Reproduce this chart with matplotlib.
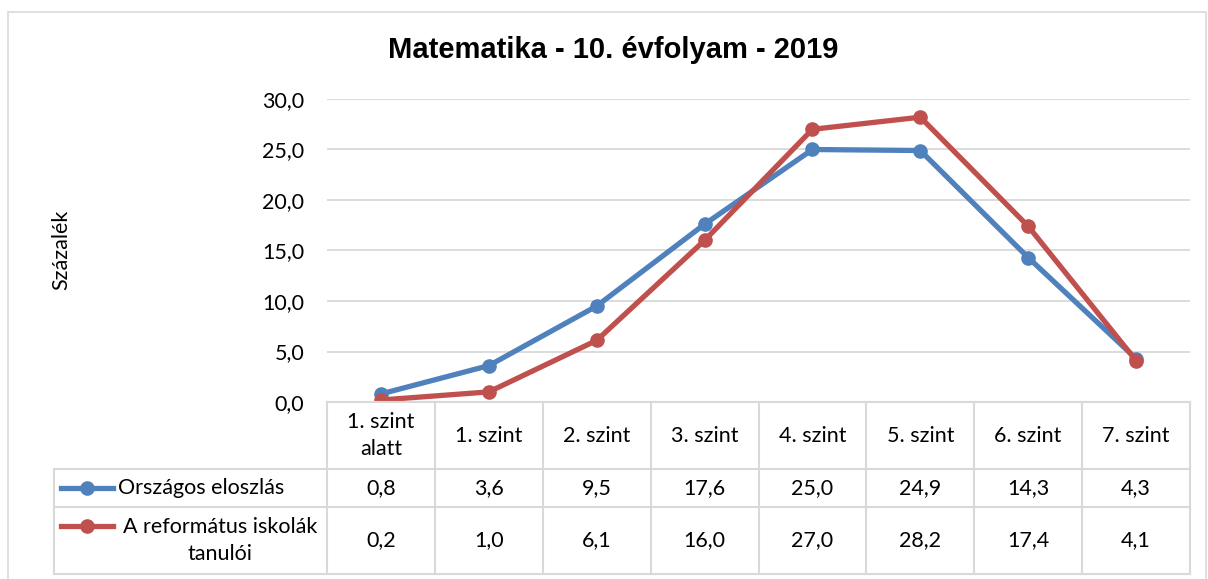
import matplotlib.pyplot as plt
from matplotlib.lines import Line2D
from matplotlib.patches import Rectangle

categories = ["1. szint\nalatt", "1. szint", "2. szint", "3. szint",
              "4. szint", "5. szint", "6. szint", "7. szint"]
orszagos = [0.8, 3.6, 9.5, 17.6, 25.0, 24.9, 14.3, 4.3]
reformatus = [0.2, 1.0, 6.1, 16.0, 27.0, 28.2, 17.4, 4.1]
series_names = ["Országos eloszlás", "A református iskolák\ntanulói"]
yticks = [0, 5, 10, 15, 20, 25, 30]

BLUE = "#4F81BD"
RED = "#C0504D"
GRID = "#D9D9D9"
FONT = "Lato"
FS = 15.5

W, H = 1208, 579
fig = plt.figure(figsize=(W / 100, H / 100), dpi=100)


def fx(px):
    return px / W


def fy(py):
    return 1 - py / H


# outer chart frame
fig.patches.append(Rectangle((fx(8), fy(600)), fx(1198), fy(12) - fy(600),
                             transform=fig.transFigure, fill=False,
                             edgecolor="#D9D9D9", linewidth=1.2))

left, right, top, bottom = 327, 1190, 99, 402
ax = fig.add_axes([fx(left), fy(bottom), fx(right) - fx(left), fy(top) - fy(bottom)])
x = list(range(len(categories)))
ax.plot(x, orszagos, color=BLUE, linewidth=3.8, marker="o", markersize=9.5, zorder=3)
ax.plot(x, reformatus, color=RED, linewidth=3.8, marker="o", markersize=9.5, zorder=3)
ax.set_xlim(-0.5, len(categories) - 0.5)
ax.set_ylim(0, 30)
ax.set_yticks(yticks)
ax.set_yticklabels([f"{v:.1f}".replace(".", ",") for v in yticks],
                   fontsize=FS, family=FONT)
ax.set_xticks([])
ax.tick_params(axis="y", length=0, pad=16.5)
ax.grid(axis="y", color=GRID, linewidth=1.3)
ax.set_axisbelow(True)
for s in ax.spines.values():
    s.set_visible(False)

fig.text(fx(61), fy(250), "Százalék", rotation=90, ha="center", va="center",
         fontsize=FS, family=FONT)
fig.text(fx(613), fy(50), "Matematika - 10. évfolyam - 2019", ha="center",
         va="center", fontsize=21, fontweight="bold", family="Liberation Sans")

# data table below the plot
col_w = (right - left) / len(categories)
rows = [402, 469, 507, 574]
legend_left = 54


def hline(x0, x1, y):
    fig.add_artist(Line2D([fx(x0), fx(x1)], [fy(y), fy(y)], color=GRID, linewidth=1.5))


def vline(xp, y0, y1):
    fig.add_artist(Line2D([fx(xp), fx(xp)], [fy(y0), fy(y1)], color=GRID, linewidth=1.5))


hline(left, right, rows[0])
for y in rows[1:]:
    hline(legend_left, right, y)
for i in range(len(categories) + 1):
    vline(left + i * col_w, rows[0], rows[3])
vline(legend_left, rows[1], rows[3])

for i, cat in enumerate(categories):
    cx = left + (i + 0.5) * col_w
    fig.text(fx(cx), fy((rows[0] + rows[1]) / 2), cat, ha="center", va="center",
             fontsize=FS, family=FONT, linespacing=1.45)
    for r, vals in enumerate([orszagos, reformatus]):
        fig.text(fx(cx), fy((rows[r + 1] + rows[r + 2]) / 2),
                 f"{vals[i]:.1f}".replace(".", ","), ha="center", va="center",
                 fontsize=FS, family=FONT)

for r, (name, color) in enumerate(zip(series_names, [BLUE, RED])):
    yc = (rows[r + 1] + rows[r + 2]) / 2
    ly = yc if r == 0 else rows[r + 1] + 19
    fig.add_artist(Line2D([fx(61), fx(113)], [fy(ly), fy(ly)], color=color,
                          linewidth=3.8))
    fig.add_artist(Line2D([fx(87)], [fy(ly)], color=color, marker="o", markersize=9.5))
    if r == 0:
        fig.text(fx(118), fy(yc), name, ha="left", va="center", fontsize=FS, family=FONT)
    else:
        fig.text(fx(220), fy(yc), name, ha="center", va="center", fontsize=FS,
                 family=FONT, linespacing=1.45, multialignment="center")

fig.savefig("out.png", dpi=100)
